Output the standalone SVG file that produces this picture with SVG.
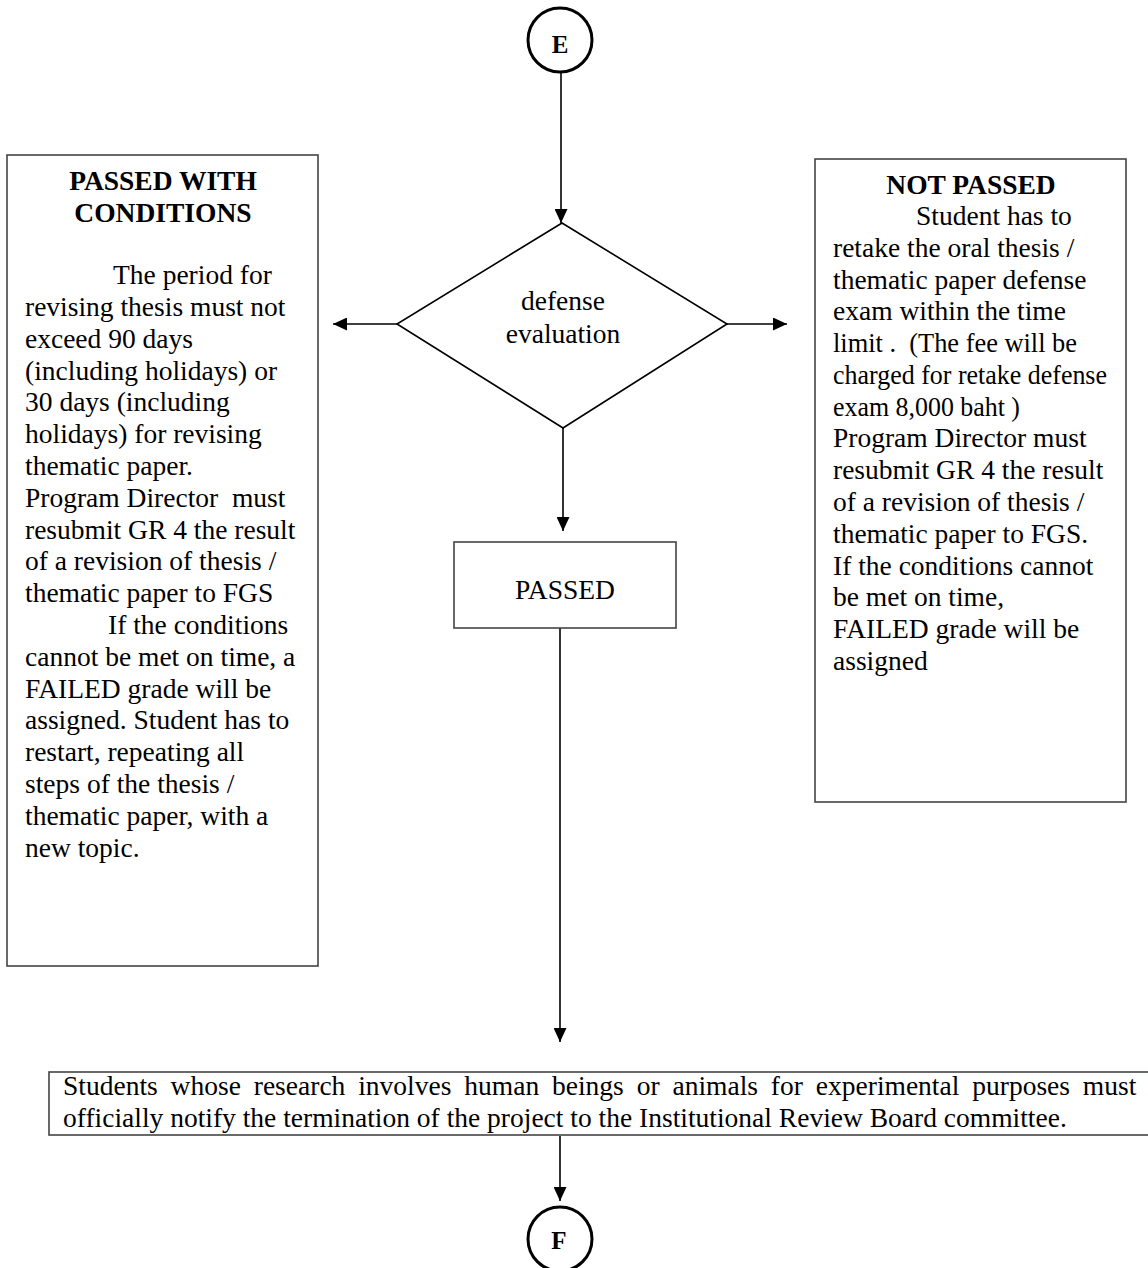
<svg xmlns="http://www.w3.org/2000/svg" width="1148" height="1268" viewBox="0 0 1148 1268" font-family="Liberation Serif, Times New Roman, serif">
<style>
text{font-size:27.5px;fill:#000}
.b{font-weight:bold}
.c{text-anchor:middle}
.box{fill:#fff;stroke:#444;stroke-width:1.6}
.circ{fill:#fff;stroke:#000;stroke-width:3}
.con line{stroke:#000;stroke-width:1.6;fill:none}
</style>
<defs>
<marker id="ah" markerUnits="userSpaceOnUse" markerWidth="14" markerHeight="13" refX="14" refY="6.5" orient="auto">
<path d="M0,0 L14,6.5 L0,13 z" fill="#000"/>
</marker>
</defs>
<rect width="1148" height="1268" fill="#fff"/>
<g class="con">
<line x1="561" y1="72" x2="561" y2="223" marker-end="url(#ah)"/>
<line x1="397" y1="324" x2="333" y2="324" marker-end="url(#ah)"/>
<line x1="727" y1="324" x2="787" y2="324" marker-end="url(#ah)"/>
<line x1="563" y1="428" x2="563" y2="531" marker-end="url(#ah)"/>
<line x1="560" y1="628" x2="560" y2="1042" marker-end="url(#ah)"/>
<line x1="560" y1="1136" x2="560" y2="1201" marker-end="url(#ah)"/>
</g>
<g id="nodeE">
<circle class="circ" cx="560" cy="40" r="32"/>
<text class="b c" x="560" y="53" style="font-size:25px">E</text>
</g>
<g id="decision">
<polygon points="562,223 727,324 563,428 397,324" fill="#fff" stroke="#000" stroke-width="1.6"/>
<text class="c" x="563" y="310">defense</text>
<text class="c" x="563" y="343">evaluation</text>
</g>
<g id="passedWithConditions">
<rect class="box" x="7" y="155" width="311" height="811"/>
<text class="b c" x="163" y="190">PASSED WITH</text>
<text class="b c" x="163" y="222">CONDITIONS</text>
<text x="113" y="284">The period for</text>
<text x="25" y="316">revising thesis must not</text>
<text x="25" y="348">exceed 90 days</text>
<text x="25" y="380">(including holidays) or</text>
<text x="25" y="411">30 days (including</text>
<text x="25" y="443">holidays) for revising</text>
<text x="25" y="475">thematic paper.</text>
<text x="25" y="507" xml:space="preserve">Program Director  must</text>
<text x="25" y="539">resubmit GR 4 the result</text>
<text x="25" y="570">of a revision of thesis /</text>
<text x="25" y="602">thematic paper to FGS</text>
<text x="108" y="634">If the conditions</text>
<text x="25" y="666">cannot be met on time, a</text>
<text x="25" y="698">FAILED grade will be</text>
<text x="25" y="729">assigned. Student has to</text>
<text x="25" y="761">restart, repeating all</text>
<text x="25" y="793">steps of the thesis /</text>
<text x="25" y="825">thematic paper, with a</text>
<text x="25" y="857">new topic.</text>
</g>
<g id="notPassed">
<rect class="box" x="815" y="159" width="311" height="643"/>
<text class="b c" x="971" y="194">NOT PASSED</text>
<text x="916" y="225">Student has to</text>
<text x="833" y="257">retake the oral thesis /</text>
<text x="833" y="289">thematic paper defense</text>
<text x="833" y="320">exam within the time</text>
<text x="833" y="352" xml:space="preserve" textLength="244" lengthAdjust="spacingAndGlyphs">limit .  (The fee will be</text>
<text x="833" y="384" textLength="274" lengthAdjust="spacingAndGlyphs">charged for retake defense</text>
<text x="833" y="416" textLength="187" lengthAdjust="spacingAndGlyphs">exam 8,000 baht )</text>
<text x="833" y="447">Program Director must</text>
<text x="833" y="479">resubmit GR 4 the result</text>
<text x="833" y="511">of a revision of thesis /</text>
<text x="833" y="543">thematic paper to FGS.</text>
<text x="833" y="575">If the conditions cannot</text>
<text x="833" y="606">be met on time,</text>
<text x="833" y="638">FAILED grade will be</text>
<text x="833" y="670">assigned</text>
</g>
<g id="passed">
<rect class="box" x="454" y="542" width="222" height="86"/>
<text class="c" x="565" y="599">PASSED</text>
</g>
<g id="irbNotice">
<rect class="box" x="49" y="1072" width="1120" height="63"/>
<text x="63" y="1095" style="word-spacing:6px">Students whose research involves human beings or animals for experimental purposes must</text>
<text x="63" y="1127">officially notify the termination of the project to the Institutional Review Board committee.</text>
</g>
<g id="nodeF">
<circle class="circ" cx="560" cy="1239" r="32"/>
<text class="b c" x="559" y="1249" style="font-size:25px">F</text>
</g>
</svg>
